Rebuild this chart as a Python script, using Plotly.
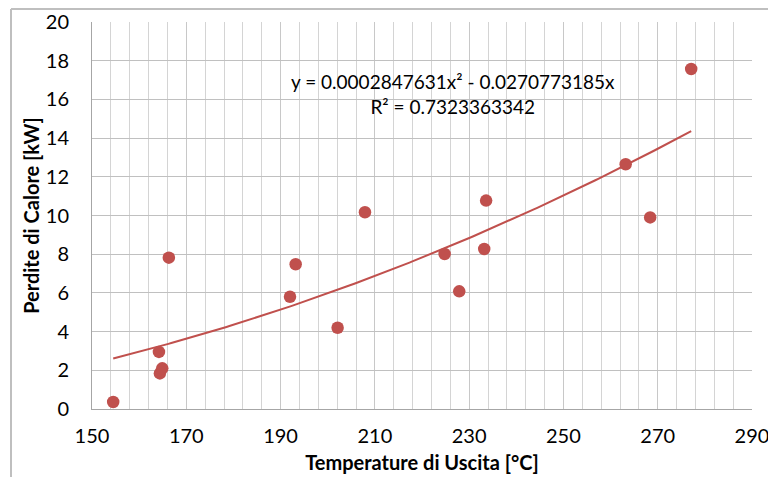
import numpy as np
import plotly.graph_objects as go

# Data
temp_uscita = [154.5, 164.2, 164.4, 164.9, 166.3, 192.0, 193.2, 202.1, 207.9,
               224.8, 227.9, 233.2, 233.6, 263.2, 268.4, 277.1]
perdite_calore = [0.36, 2.95, 1.84, 2.10, 7.82, 5.80, 7.48, 4.20, 10.17,
                  8.01, 6.08, 8.27, 10.77, 12.65, 9.90, 17.57]

# Polynomial trendline coefficients (order 2, intercept 0)
coef_a = 0.0002847631
coef_b = -0.0270773185
r_squared = 0.7323363342

x_ticks = [150, 170, 190, 210, 230, 250, 270, 290]
y_ticks = [0, 2, 4, 6, 8, 10, 12, 14, 16, 18, 20]

COLOR = "#C0504D"
FONT = "Lato"

xt = np.linspace(min(temp_uscita), max(temp_uscita), 200)
yt = coef_a * xt ** 2 + coef_b * xt

fig = go.Figure()
fig.add_trace(go.Scatter(x=xt, y=yt, mode="lines",
                         line=dict(color=COLOR, width=2), hoverinfo="skip",
                         showlegend=False))
fig.add_trace(go.Scatter(x=temp_uscita, y=perdite_calore, mode="markers",
                         marker=dict(color=COLOR, size=12.5), showlegend=False))

fig.add_annotation(x=226.5, y=16.3, xref="x", yref="y", showarrow=False,
                   text=f"y = {coef_a:.10f}x² - {abs(coef_b):.10f}x<br>R² = {r_squared:.10f}",
                   font=dict(family=FONT, size=19, color="black"), align="center")

# outer chart border (partially cropped)
bx = (11 - 92) / 660
by = 1 + (22 - 9) / 387
fig.add_shape(type="line", xref="paper", yref="paper", x0=bx, x1=bx, y0=by, y1=-0.3,
              line=dict(color="#BFBFBF", width=2))
fig.add_shape(type="line", xref="paper", yref="paper", x0=bx, x1=1.1, y0=by, y1=by,
              line=dict(color="#BFBFBF", width=2))

fig.update_layout(
    width=768, height=477,
    margin=dict(l=92, r=16, t=22, b=68),
    paper_bgcolor="white", plot_bgcolor="white",
    font=dict(family=FONT, size=20, color="black"),
    xaxis=dict(range=[150, 290], tickvals=x_ticks, showgrid=True, automargin=False,
               ticklabeloverflow="allow",
               gridcolor="#C8C8C8", gridwidth=1,
               minor=dict(tick0=150, dtick=4, showgrid=True, gridcolor="#D4D4D4", gridwidth=1),
               showline=True, linecolor="#A6A6A6", linewidth=1, zeroline=False,
               ticks="outside", ticklen=9, tickcolor="rgba(0,0,0,0)",
               title=dict(text="<b>Temperature di Uscita [°C]</b>", font=dict(size=20), standoff=9)),
    yaxis=dict(range=[0, 20], tickvals=y_ticks, showgrid=True, automargin=False,
               gridcolor="#C0C0C0", gridwidth=1,
               showline=True, linecolor="#A6A6A6", linewidth=1, zeroline=False,
               ticks="outside", ticklen=18, tickcolor="rgba(0,0,0,0)",
               title=dict(text="<b>Perdite di Calore [kW]</b>", font=dict(size=20), standoff=0)),
)

# remove the page's default body margin so the figure fills the window exactly
fig.write_html("out.html",
               config={"displayModeBar": False},
               post_script="document.body.style.margin='0';"
                           "document.documentElement.style.overflow='hidden';")
